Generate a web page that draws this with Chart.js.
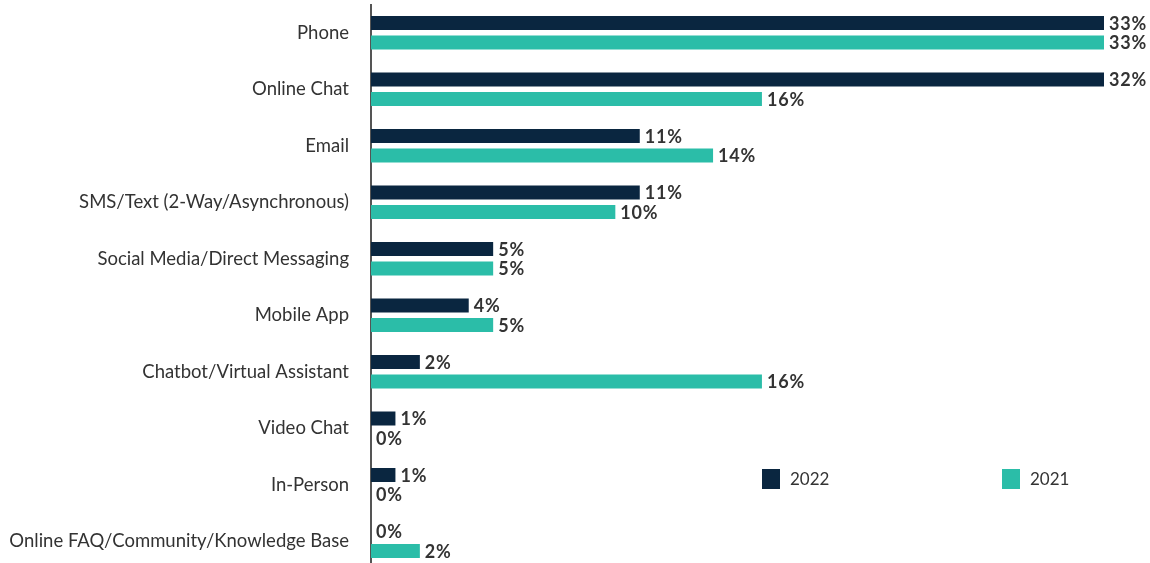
<!DOCTYPE html>
<html>
<head>
<meta charset="utf-8">
<script src="https://cdn.jsdelivr.net/npm/chart.js@4/dist/chart.umd.min.js"></script>
<style>
html,body{margin:0;padding:0;background:#fff;overflow:hidden;}
#wrap{position:relative;width:1150px;height:574px;}
</style>
</head>
<body>
<div id="wrap"><canvas id="c"></canvas></div>
<script>
const categories = ["Phone","Online Chat","Email","SMS/Text (2-Way/Asynchronous)","Social Media/Direct Messaging","Mobile App","Chatbot/Virtual Assistant","Video Chat","In-Person","Online FAQ/Community/Knowledge Base"];
const values2022 = [33,32,11,11,5,4,2,1,1,0];
const values2021 = [33,16,14,10,5,5,16,0,0,2];
const seriesNames = ["2022","2021"];
const axisMax = 30;

const NAVY = "#0a2640";
const TEAL = "#2bbda8";
const FONT = "Lato, 'Noto Sans', sans-serif";

const valueLabels = {
  id: 'valueLabels',
  afterDatasetsDraw(chart) {
    const ctx = chart.ctx;
    const area = chart.chartArea;
    ctx.save();
    ctx.font = "bold 18px " + FONT;
    try { ctx.letterSpacing = "0.8px"; } catch(e) {}
    ctx.fillStyle = "#333333";
    ctx.textBaseline = "middle";
    ctx.textAlign = "left";
    chart.data.datasets.forEach((ds, i) => {
      const meta = chart.getDatasetMeta(i);
      meta.data.forEach((bar, j) => {
        const x = Math.min(bar.x, area.right) + 5;
        ctx.fillText(ds.data[j] + "%", x, bar.y + 1);
      });
    });
    ctx.restore();
  }
};

const customLegend = {
  id: 'customLegend',
  afterDraw(chart) {
    const ctx = chart.ctx;
    const pos = [762, 1002];
    ctx.save();
    ctx.font = "17px " + FONT;
    ctx.textBaseline = "middle";
    ctx.textAlign = "left";
    chart.data.datasets.forEach((ds, i) => {
      ctx.fillStyle = ds.backgroundColor;
      ctx.fillRect(pos[i], 469, 18, 20);
      ctx.fillStyle = "#333333";
      ctx.fillText(ds.label, pos[i] + 28, 480);
    });
    ctx.restore();
  }
};

new Chart(document.getElementById('c'), {
  type: 'bar',
  data: {
    labels: categories,
    datasets: [
      { label: seriesNames[0], data: values2022, backgroundColor: NAVY, clip: 0 },
      { label: seriesNames[1], data: values2021, backgroundColor: TEAL, clip: 0 }
    ]
  },
  options: {
    indexAxis: 'y',
    responsive: true,
    maintainAspectRatio: false,
    animation: false,
    datasets: { bar: { categoryPercentage: 0.686, barPercentage: 0.72 } },
    layout: { padding: { top: 4.5, bottom: 4.5, left: 0, right: 46 } },
    plugins: { legend: { display: false }, tooltip: { enabled: false } },
    scales: {
      x: {
        min: 0, max: axisMax,
        display: false
      },
      y: {
        grid: { display: false, drawTicks: false },
        border: { display: true, color: "#555555", width: 2 },
        ticks: { color: "#333333", font: { family: FONT, size: 18.5 }, padding: 22 },
        afterFit(scale) { scale.width = 371; scale.paddingTop = 0; scale.paddingBottom = 0; }
      }
    }
  },
  plugins: [valueLabels, customLegend]
});
</script>
</body>
</html>
